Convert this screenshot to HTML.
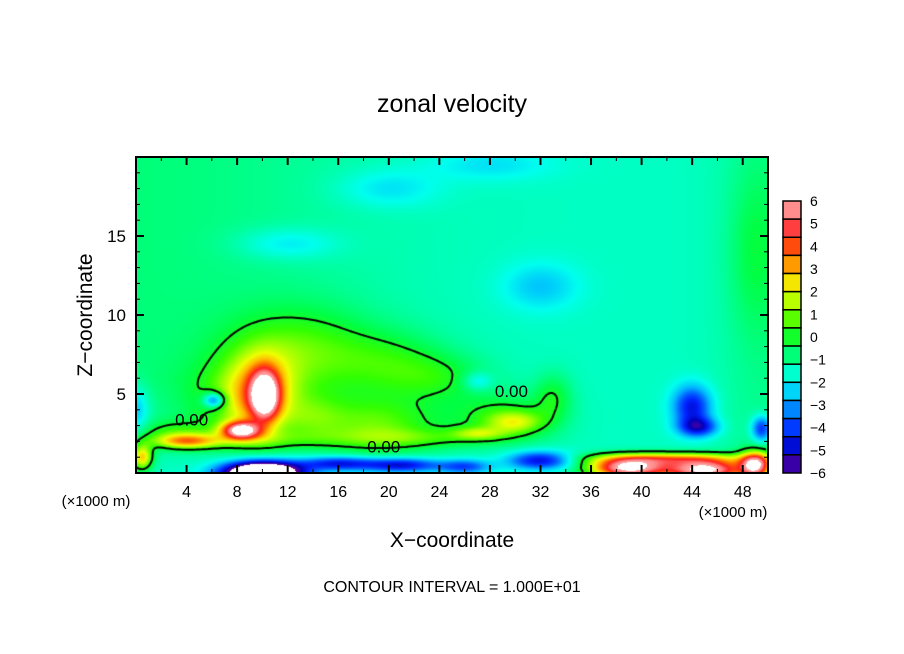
<!DOCTYPE html>
<html><head><meta charset="utf-8">
<style>
html,body{margin:0;padding:0;background:#fff;}
#wrap{position:relative;width:904px;height:654px;overflow:hidden;font-family:"Liberation Sans",sans-serif;}
#fieldcv{position:absolute;left:136px;top:157px;}
#ovsvg{position:absolute;left:0;top:0;}
text{font-family:"Liberation Sans",sans-serif;fill:#000;}
</style></head>
<body>
<div id="wrap">
<canvas id="fieldcv" width="632" height="316"></canvas>
<svg id="ovsvg" width="904" height="654">
<text x="452" y="112" font-size="25" text-anchor="middle">zonal velocity</text>
<text x="452" y="547" font-size="21" text-anchor="middle">X−coordinate</text>
<text transform="translate(92,315) rotate(-90)" font-size="21" text-anchor="middle">Z−coordinate</text>
<text x="96" y="506" font-size="15" text-anchor="middle">(×1000 m)</text>
<text x="733" y="517" font-size="15" text-anchor="middle">(×1000 m)</text>
<text x="452" y="592" font-size="16" text-anchor="middle">CONTOUR INTERVAL = 1.000E+01</text>
<g id="axesg"></g>
<g id="cbarg"></g>
</svg>
</div>
<script>
var xDomain=[0,50], zDomain=[0,20];
var xTicks=[4,8,12,16,20,24,28,32,36,40,44,48];
var zTicks=[5,10,15];
var cbarLevels=[6,5,4,3,2,1,0,-1,-2,-3,-4,-5,-6];
var blobX=[13,8,19,29,33,3,10.2,8.3,9.8,6.2,4,0.5,30,27,44,44.5,20,12,32,28,49,10,16,21,26,32,39,45,49,42,27,49.5,0,24,9,22,14,20];
var blobZ=[7.6,4.5,3,3.5,4.8,2.5,4.9,2.7,5,4.6,2,1,3.2,2.5,4.2,2.9,18,14.5,11.8,19.5,14,0,0.6,0.5,0.4,0.8,0.3,0.2,0.5,0.9,5.8,2.8,4,6,2.1,2.2,3.5,7];
var blobA=[1.9,1.5,2.2,1.6,1.3,1.4,6.2,6.5,3.2,-3.5,3.6,4,2.2,1.8,-3.2,-3.0,-0.9,-1,-1.1,-0.8,0.8,-10,-3.2,-3.4,-2.4,-3.4,8,8,7,4,-1.3,-3,-1.5,1.2,1.2,1.2,1.2,1.3];
var blobSX=[5.5,4,5,4,1.5,3,1.1,1.5,2.6,0.9,2.5,0.8,2.2,2,1.5,1.5,4,4,3,5,2,3,3,3,2,2.5,3,3,1.2,6,1.2,0.8,1,4,5,7,2.5,4.5];
var blobSZ=[2.8,2.5,1.8,1.5,1.5,0.8,1.5,0.55,2.6,0.5,0.45,0.8,0.7,0.4,1.3,0.6,1.2,1,1.5,1,5,0.7,0.45,0.45,0.45,0.55,0.6,0.6,0.8,0.4,0.6,0.8,1.5,1.5,0.6,0.6,1.5,2];
var baseVal=-1.5;
var lblX=[4.4,19.6,29.7], lblZ=[3.0,1.3,4.8];

var PW=632,PH=316;
function sx(x){return 136+(x-xDomain[0])/(xDomain[1]-xDomain[0])*PW;}
function sz(z){return 157+PH-(z-zDomain[0])/(zDomain[1]-zDomain[0])*PH;}
function fieldVal(x,z){
  var v=baseVal+0.7*Math.exp(-Math.pow(x/18,2))*Math.min(1,z/6)+0.5*Math.exp(-Math.pow((x-50)/4,2));
  var n=Math.min(blobX.length,blobZ.length,blobA.length,blobSX.length,blobSZ.length);
  for(var i=0;i<n;i++){
    var dx=(x-blobX[i])/blobSX[i], dz=(z-blobZ[i])/blobSZ[i];
    v+=blobA[i]*Math.exp(-(dx*dx+dz*dz));
  }
  return v;
}
var colorStops=[[-6,[102,0,153]],[-5.1,[0,0,187]],[-4.3,[0,34,255]],[-3.5,[0,102,255]],[-2.7,[0,187,255]],[-1.9,[0,255,238]],[-1.1,[0,255,153]],[-0.3,[0,255,68]],[0.5,[51,255,0]],[1.3,[153,255,0]],[2.1,[238,255,0]],[2.9,[255,187,0]],[3.7,[255,102,0]],[4.5,[255,32,32]],[5.5,[255,136,136]],[6,[255,160,160]]];
function colorOf(v){
  if(v>6.2||v<-6.2)return [255,255,255];
  if(v<=colorStops[0][0])return colorStops[0][1];
  for(var i=1;i<colorStops.length;i++){
    if(v<=colorStops[i][0]){
      var p=colorStops[i-1],q=colorStops[i];var t=(v-p[0])/(q[0]-p[0]);
      return [Math.round(p[1][0]+(q[1][0]-p[1][0])*t),Math.round(p[1][1]+(q[1][1]-p[1][1])*t),Math.round(p[1][2]+(q[1][2]-p[1][2])*t)];
    }
  }
  return colorStops[colorStops.length-1][1];
}
var SVGNS='http://www.w3.org/2000/svg';
function mk(tag,attrs,par){var el=document.createElementNS(SVGNS,tag);for(var k in attrs)el.setAttribute(k,attrs[k]);par.appendChild(el);return el;}
function edgePt(pts,v1,v2,x1,y1,x2,y2){if((v1>0)!==(v2>0)){var t=v1/(v1-v2);pts.push([x1+(x2-x1)*t,y1+(y2-y1)*t]);}}

try{
  var cv=document.getElementById('fieldcv');var g2=cv.getContext('2d');
  var imgd=g2.createImageData(PW,PH);
  var grid=[];
  for(var py=0;py<PH;py++){
    var zz=zDomain[1]-(py+0.5)/PH*(zDomain[1]-zDomain[0]);
    var row=[];
    for(var px=0;px<PW;px++){
      var xx=xDomain[0]+(px+0.5)/PW*(xDomain[1]-xDomain[0]);
      var v=fieldVal(xx,zz);row.push(v);
      var c=colorOf(v);var o=(py*PW+px)*4;
      imgd.data[o]=c[0];imgd.data[o+1]=c[1];imgd.data[o+2]=c[2];imgd.data[o+3]=255;
    }
    grid.push(row);
  }
  g2.putImageData(imgd,0,0);
  g2.strokeStyle='#000';g2.lineWidth=2;g2.beginPath();
  var st=3;
  for(var y=0;y<PH-st;y+=st){for(var x=0;x<PW-st;x+=st){
    var a0=grid[y][x],b0=grid[y][x+st],c0=grid[y+st][x+st],d0=grid[y+st][x];
    var pts=[];
    edgePt(pts,a0,b0,x,y,x+st,y);edgePt(pts,b0,c0,x+st,y,x+st,y+st);
    edgePt(pts,c0,d0,x+st,y+st,x,y+st);edgePt(pts,d0,a0,x,y+st,x,y);
    for(var k=0;k+1<pts.length;k+=2){g2.moveTo(pts[k][0],pts[k][1]);g2.lineTo(pts[k+1][0],pts[k+1][1]);}
  }}
  g2.stroke();
}catch(err){}

try{
  var ovs=document.getElementById('ovsvg');
  for(var i=0;i<lblX.length;i++){
    var tl=mk('text',{x:sx(lblX[i]),y:sz(lblZ[i]),'font-size':17,'text-anchor':'middle'},ovs);
    
    
    tl.textContent='0.00';
  }
  var axg=document.getElementById('axesg');
  var fr=mk('rect',{x:136,y:157,width:PW,height:PH,fill:'none',stroke:'#000','stroke-width':2},axg);
  
  
  for(var tx=2;tx<50;tx+=2){
    var maj=xTicks.indexOf(tx)>=0;var L=maj?8:4;
    mk('line',{x1:sx(tx),x2:sx(tx),y1:sz(0),y2:sz(0)-L,stroke:'#000','stroke-width':maj?2:1},axg);
    mk('line',{x1:sx(tx),x2:sx(tx),y1:sz(20),y2:sz(20)+L,stroke:'#000','stroke-width':maj?2:1},axg);
  }
  xTicks.forEach(function(xv){var t=mk('text',{x:sx(xv),y:497,'font-size':16,'text-anchor':'middle'},axg);
    
    
    t.textContent=xv;});
  for(var tz=1;tz<20;tz++){
    var mj=tz%5===0;var LL=mj?8:4;
    mk('line',{x1:136,x2:136+LL,y1:sz(tz),y2:sz(tz),stroke:'#000','stroke-width':mj?2:1},axg);
    mk('line',{x1:768,x2:768-LL,y1:sz(tz),y2:sz(tz),stroke:'#000','stroke-width':mj?2:1},axg);
  }
  zTicks.forEach(function(zv){var t=mk('text',{x:126,y:sz(zv)+6,'font-size':17,'text-anchor':'end'},axg);
    
    
    t.textContent=zv;});
  var cbg=document.getElementById('cbarg');
  var cTop=201,cBot=473,nBox=15,bh=(cBot-cTop)/nBox;
  for(var bi=0;bi<nBox;bi++){
    var bv=6-(bi+0.5)*12/nBox;var cc=colorOf(Math.max(-5.95,Math.min(5.95,bv)));
    var r=mk('rect',{x:783,y:cTop+bi*bh,width:18,height:bh,fill:'rgb('+cc[0]+','+cc[1]+','+cc[2]+')',stroke:'#000','stroke-width':1.5},cbg);
    
    
  }
  cbarLevels.forEach(function(lv){var yy=cTop+(6-lv)/12*(cBot-cTop);
    var t=mk('text',{x:810,y:yy+5,'font-size':14},cbg);
    
    
    t.textContent=lv<0?'−'+(-lv):String(lv);});
}catch(err2){}
</script>
</body></html>
